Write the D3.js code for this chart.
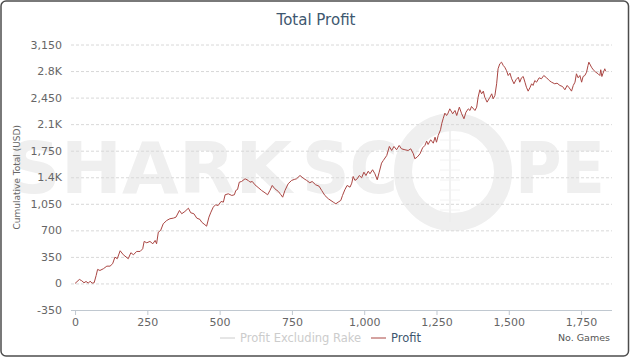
<!DOCTYPE html>
<html>
<head>
<meta charset="utf-8">
<script src="https://cdn.jsdelivr.net/npm/d3@7/dist/d3.min.js"></script>
<style>
  html, body { margin: 0; padding: 0; background: #fff; }
  svg { display: block; font-family: "DejaVu Sans", Verdana, sans-serif; }
</style>
</head>
<body>
<div id="chart"></div>
<script>
// ---- data ----
const chartTitle = "Total Profit";
const yAxisTitle = "Cumulative Total (USD)";
const xAxisTitle = "No. Games";
const seriesNames = ["Profit Excluding Rake", "Profit"];

const yTicks = [-350, 0, 350, 700, 1050, 1400, 1750, 2100, 2450, 2800, 3150];
const yTickLabels = ["-350", "0", "350", "700", "1,050", "1.4K", "1,750", "2.1K", "2,450", "2.8K", "3,150"];
const xTicks = [0, 250, 500, 750, 1000, 1250, 1500, 1750];
const xTickLabels = ["0", "250", "500", "750", "1,000", "1,250", "1,500", "1,750"];

const games = [
  0, 15, 23, 31, 38, 46, 52, 59, 66, 73, 78, 86, 98, 110, 121, 130, 138, 146, 156, 167,
  184, 193, 202, 213, 225, 234, 239, 248, 259, 269, 277, 282, 288, 296, 305, 317, 328, 340, 349, 361,
  369, 380, 392, 400, 411, 421, 432, 438, 449, 455, 463, 470, 478, 486, 495, 505, 513, 519, 530, 542,
  551, 556, 562, 568, 576, 588, 599, 605, 613, 622, 636, 645, 657, 666, 674, 682, 691, 703, 712, 718,
  726, 737, 749, 758, 766, 778, 789, 801, 812, 820, 832, 844, 853, 864, 876, 893, 902, 910, 919, 925,
  933, 941, 951, 957, 962, 968, 976, 983, 991, 999, 1006, 1014, 1020, 1029, 1037, 1045, 1052, 1060, 1066, 1078,
  1087, 1095, 1103, 1112, 1121, 1129, 1141, 1152, 1161, 1170, 1175, 1183, 1193, 1202, 1210, 1216, 1221, 1230, 1239, 1245,
  1250, 1256, 1264, 1268, 1273, 1279, 1285, 1290, 1296, 1306, 1314, 1320, 1329, 1337, 1345, 1352, 1360, 1366, 1371, 1383,
  1389, 1394, 1400, 1406, 1412, 1417, 1425, 1435, 1441, 1446, 1452, 1458, 1463, 1469, 1475, 1481, 1486, 1492, 1498, 1504,
  1510, 1518, 1525, 1533, 1538, 1544, 1550, 1556, 1561, 1567, 1573, 1579, 1584, 1590, 1596, 1605, 1613, 1621, 1631, 1640,
  1648, 1659, 1667, 1677, 1686, 1694, 1702, 1709, 1717, 1723, 1729, 1734, 1740, 1746, 1752, 1757, 1763, 1769, 1774, 1777,
  1786, 1792, 1801, 1809, 1815, 1818, 1822, 1826, 1832, 1835
];
const profit = [
  0, 53, 36, 9, 26, 4, 30, 4, 9, 105, 185, 171, 194, 228, 228, 260, 347, 326, 431, 378,
  326, 405, 378, 422, 422, 457, 554, 536, 554, 523, 567, 523, 676, 699, 787, 830, 853, 861, 874, 962,
  919, 949, 992, 932, 919, 861, 844, 808, 774, 755, 874, 940, 1006, 1037, 1028, 1081, 1072, 1169, 1182, 1160,
  1169, 1226, 1239, 1335, 1344, 1380, 1358, 1335, 1344, 1301, 1256, 1226, 1195, 1169, 1226, 1292, 1248, 1213, 1169, 1137,
  1226, 1314, 1358, 1371, 1380, 1423, 1388, 1358, 1327, 1344, 1301, 1282, 1226, 1160, 1116, 1072, 1050, 1072, 1094, 1160,
  1235, 1292, 1269, 1322, 1410, 1358, 1380, 1423, 1393, 1467, 1423, 1480, 1446, 1499, 1446, 1367, 1467, 1586, 1621, 1687,
  1806, 1753, 1806, 1762, 1819, 1775, 1762, 1753, 1775, 1709, 1644, 1665, 1709, 1788, 1819, 1876, 1832, 1894, 1849, 1928,
  1862, 1951, 2026, 2105, 2171, 2245, 2214, 2245, 2302, 2237, 2280, 2214, 2324, 2237, 2171, 2258, 2302, 2280, 2333, 2280,
  2324, 2455, 2553, 2500, 2535, 2455, 2390, 2455, 2500, 2434, 2478, 2632, 2830, 2896, 2917, 2873, 2851, 2807, 2741, 2772,
  2698, 2632, 2685, 2719, 2653, 2711, 2728, 2653, 2587, 2535, 2579, 2632, 2610, 2675, 2653, 2711, 2698, 2741, 2711, 2675,
  2653, 2632, 2640, 2610, 2596, 2553, 2610, 2579, 2535, 2610, 2653, 2764, 2711, 2741, 2653, 2728, 2741, 2785, 2873, 2917,
  2851, 2817, 2785, 2764, 2741, 2817, 2728, 2772, 2830, 2798
];

// ---- layout ----
const W = 631, H = 359;
const plot = { left: 71, right: 612, top: 44.5, bottom: 310 };

const svg = d3.select("#chart").append("svg").attr("width", W).attr("height", H);

// background + frame
svg.append("rect").attr("x", 1).attr("y", 1).attr("width", 627.5).attr("height", 355)
  .attr("rx", 5).attr("ry", 5).attr("fill", "#fff").attr("stroke", "#4d4d4d").attr("stroke-width", 1.5);

// watermark
const wm = svg.append("g").attr("fill", "#efefef");
wm.append("text").attr("x", 8).attr("y", 193).attr("font-size", 72).attr("font-weight", "bold")
  .attr("textLength", 284).attr("lengthAdjust", "spacingAndGlyphs").text("SHARK");
wm.append("text").attr("x", 302).attr("y", 193).attr("font-size", 72).attr("font-weight", "bold")
  .attr("textLength", 96).attr("lengthAdjust", "spacingAndGlyphs").text("SC");
wm.append("text").attr("x", 515).attr("y", 193).attr("font-size", 72).attr("font-weight", "bold")
  .attr("textLength", 90).attr("lengthAdjust", "spacingAndGlyphs").text("PE");
wm.append("circle").attr("cx", 453).attr("cy", 172).attr("r", 50).attr("fill", "none")
  .attr("stroke", "#efefef").attr("stroke-width", 18);
wm.append("line").attr("x1", 450).attr("x2", 450).attr("y1", 130).attr("y2", 222)
  .attr("stroke", "#ececec").attr("stroke-width", 1.5);
[140, 150, 160, 170, 180, 190, 200, 210].forEach(yy => {
  wm.append("line").attr("x1", 440).attr("x2", 460).attr("y1", yy).attr("y2", yy)
    .attr("stroke", "#f2f2f2").attr("stroke-width", 1);
});

// scales
const x = d3.scaleLinear().domain([-14, 1857]).range([plot.left, plot.right]);
const y = d3.scaleLinear().domain([-350, 3150]).range([plot.bottom, plot.top]);

// gridlines
const grid = svg.append("g").attr("transform", `translate(${plot.left},0)`)
  .call(d3.axisLeft(y).tickValues(yTicks.filter(v => v !== -350)).tickSize(-(plot.right - plot.left)).tickFormat(""));
grid.select(".domain").remove();
grid.selectAll("line").attr("stroke", "#d8d8d8").attr("stroke-dasharray", "3,2").attr("stroke-width", 1);

// y axis labels
const yAx = svg.append("g").attr("transform", `translate(${plot.left},0)`)
  .call(d3.axisLeft(y).tickValues(yTicks).tickSize(0).tickPadding(9).tickFormat((d, i) => yTickLabels[i]));
yAx.select(".domain").remove();
yAx.selectAll("text").attr("font-size", 11).attr("fill", "#666").attr("font-family", "DejaVu Sans, sans-serif");

// x axis
const xAx = svg.append("g").attr("transform", `translate(0,${plot.bottom})`)
  .call(d3.axisBottom(x).tickValues(xTicks).tickSize(5).tickPadding(3).tickFormat((d, i) => xTickLabels[i]));
xAx.select(".domain").attr("d", `M${plot.left},0.5H${plot.right}`).attr("stroke", "#c0c8d0");
xAx.selectAll("line").attr("stroke", "#c0c8d0");
xAx.selectAll("text").attr("font-size", 11).attr("fill", "#666").attr("font-family", "DejaVu Sans, sans-serif");

// line
const pts = games.map((g, i) => [g, profit[i]]);
svg.append("path").datum(pts)
  .attr("fill", "none").attr("stroke", "#AA4643").attr("stroke-width", 1).attr("stroke-linejoin", "round")
  .attr("d", d3.line().x(d => x(d[0])).y(d => y(d[1])));

// title
svg.append("text").attr("x", 316).attr("y", 25).attr("text-anchor", "middle")
  .attr("font-size", 15).attr("fill", "#3E576F").text(chartTitle);

// y axis title
svg.append("text").attr("transform", `translate(20,${(plot.top + plot.bottom) / 2}) rotate(-90)`)
  .attr("text-anchor", "middle").attr("font-size", 9).attr("fill", "#666").text(yAxisTitle);

// x axis title
svg.append("text").attr("x", 610).attr("y", 341).attr("text-anchor", "end")
  .attr("font-size", 9.5).attr("fill", "#555").text(xAxisTitle);

// legend
const leg = svg.append("g");
leg.append("line").attr("x1", 220).attr("x2", 235).attr("y1", 338).attr("y2", 338).attr("stroke", "#ccc");
leg.append("text").attr("x", 240).attr("y", 342).attr("font-size", 11.5).attr("fill", "#ccc").text(seriesNames[0]);
leg.append("line").attr("x1", 371).attr("x2", 386).attr("y1", 338).attr("y2", 338).attr("stroke", "#AA4643");
leg.append("text").attr("x", 391).attr("y", 342).attr("font-size", 11.5).attr("fill", "#3E576F").text(seriesNames[1]);
</script>
</body>
</html>
